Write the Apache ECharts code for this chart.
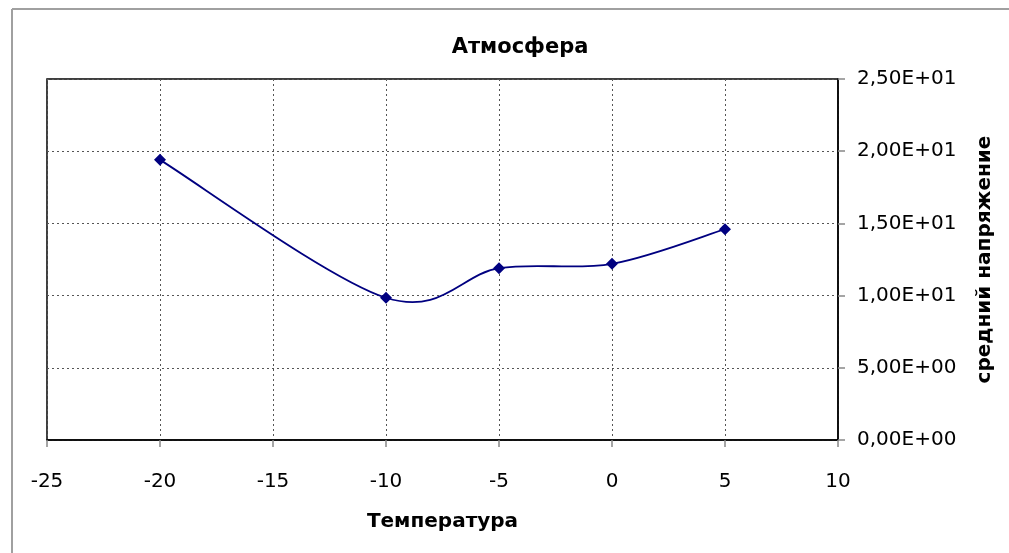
<!DOCTYPE html>
<html><head><meta charset="utf-8">
<script src="https://cdn.jsdelivr.net/npm/echarts@6/dist/echarts.min.js"></script>
<style>html,body{margin:0;padding:0;background:#fff}#c{width:1009px;height:553px}</style>
</head><body><div id="c"></div>
<script>
const temperatures = [-20, -10, -5, 0, 5];
const voltages = [19.4, 9.85, 11.9, 12.2, 14.6];
const titleText = 'Атмосфера';
const xName = 'Температура';
const yName = 'средний напряжение';

function fmtE(v){
  const s = Number(v).toExponential(2);
  const [m, e] = s.split('e');
  const sign = e[0] === '-' ? '-' : '+';
  let d = e.replace(/[+-]/, '');
  if (d.length < 2) d = '0' + d;
  return m.replace('.', ',') + 'E' + sign + d;
}

// Excel-like smoothed line (Catmull-Rom style Bezier in pixel space)
function renderSmooth(params, api){
  if (params.dataIndex !== 0) return null;
  const pts = temperatures.map((t, i) => api.coord([t, voltages[i]]));
  const n = pts.length;
  let d = 'M' + pts[0][0] + ' ' + pts[0][1];
  for (let i = 0; i < n - 1; i++){
    const p0 = pts[Math.max(i - 1, 0)], p1 = pts[i], p2 = pts[i + 1], p3 = pts[Math.min(i + 2, n - 1)];
    const c1 = [p1[0] + (p2[0] - p0[0]) / 6, p1[1] + (p2[1] - p0[1]) / 6];
    const c2 = [p2[0] - (p3[0] - p1[0]) / 6, p2[1] - (p3[1] - p1[1]) / 6];
    d += ' C' + c1[0] + ' ' + c1[1] + ' ' + c2[0] + ' ' + c2[1] + ' ' + p2[0] + ' ' + p2[1];
  }
  return {type: 'path', shape: {pathData: d}, style: {fill: 'none', stroke: '#000080', lineWidth: 1.8}};
}

const F = 'DejaVu Sans';
const chart = echarts.init(document.getElementById('c'), null, {renderer:'canvas'});
chart.setOption({
  backgroundColor: '#fff',
  animation: false,
  title: {
    text: titleText, left: 515, top: 32, textAlign: 'center',
    textStyle: {fontFamily: F, fontWeight: 'bold', fontSize: 21, color: '#000'}
  },
  grid: {left: 47, right: 171, top: 79, bottom: 113, show: true, borderColor: '#000', borderWidth: 1.5, backgroundColor: '#fff'},
  xAxis: {
    type: 'value', min: -25, max: 10, interval: 5,
    name: xName, nameLocation: 'middle', nameGap: 72,
    nameTextStyle: {fontFamily: F, fontWeight: 'bold', fontSize: 20, color: '#000'},
    axisLine: {show: true, onZero: false, lineStyle: {color: '#000', width: 1.5}},
    axisTick: {show: true, length: 7, lineStyle: {color: '#888', width: 1.5}},
    axisLabel: {fontFamily: F, fontSize: 20, color: '#000', margin: 32},
    splitLine: {show: true, lineStyle: {color: '#555', type: [2, 3], width: 1}}
  },
  yAxis: {
    type: 'value', position: 'right', min: 0, max: 25, interval: 5,
    name: yName, nameLocation: 'middle', nameGap: 137, nameRotate: 90,
    nameTextStyle: {fontFamily: F, fontWeight: 'bold', fontSize: 20, color: '#000'},
    axisLine: {show: true, onZero: false, lineStyle: {color: '#000', width: 1.5}},
    axisTick: {show: true, length: 7, lineStyle: {color: '#888', width: 1.5}},
    axisLabel: {fontFamily: F, fontSize: 20, color: '#000', margin: 19, padding: [6, 0, 0, 0], formatter: fmtE},
    splitLine: {show: true, lineStyle: {color: '#555', type: [2, 3], width: 1}}
  },
  series: [{
    type: 'custom',
    renderItem: renderSmooth,
    data: temperatures.map((t, i) => [t, voltages[i]]),
    silent: true,
    z: 2
  }, {
    type: 'scatter',
    data: temperatures.map((t, i) => [t, voltages[i]]),
    symbol: 'diamond', symbolSize: 12,
    itemStyle: {color: '#000080', opacity: 1},
    z: 3
  }],
  graphic: [
    {type: 'line', shape: {x1: 12, y1: 9, x2: 1009, y2: 9}, style: {stroke: '#a0a0a0', lineWidth: 2}},
    {type: 'line', shape: {x1: 12, y1: 9, x2: 12, y2: 553}, style: {stroke: '#a0a0a0', lineWidth: 2}}
  ]
});
</script></body></html>
